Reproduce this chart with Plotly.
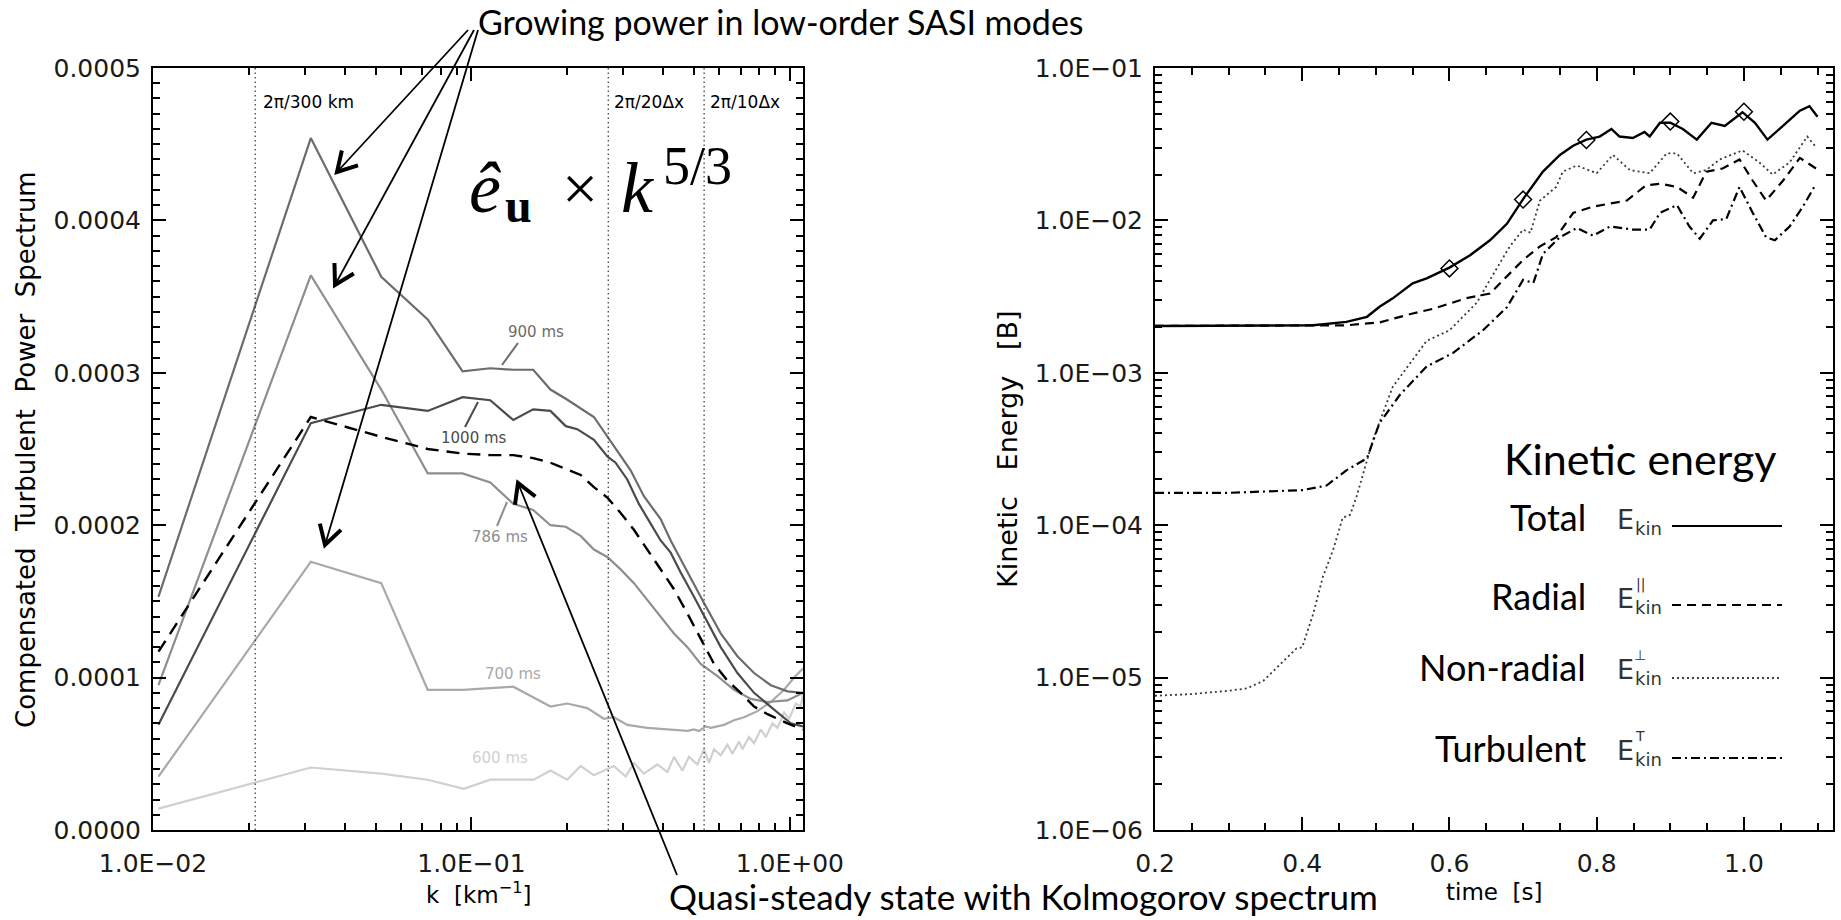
import math
import plotly.graph_objects as go

W, H = 1841, 920

# ---------------- Left panel: compensated turbulent power spectrum ----------------
# k in km^-1, spectrum values in units of 1e-4
K600 = [0.0104, 0.0313, 0.0521, 0.0729, 0.0946, 0.1147, 0.1358, 0.157, 0.1772, 0.1999, 0.2203,
        0.2425, 0.2802, 0.305, 0.3239, 0.3481, 0.3837, 0.4125, 0.4327, 0.4598, 0.4823, 0.5125,
        0.5376, 0.5573, 0.5779, 0.6067, 0.6369, 0.6603, 0.6927, 0.71, 0.7447, 0.7721, 0.8106,
        0.8404, 0.8823, 0.9147, 0.9596, 0.9949, 1.0445, 1.0829, 1.1]
P600 = [0.14, 0.41, 0.37, 0.33, 0.27, 0.33, 0.33, 0.33, 0.39, 0.33, 0.42,
        0.36, 0.42, 0.35, 0.44, 0.37, 0.43, 0.38, 0.48, 0.39, 0.48, 0.43,
        0.53, 0.44, 0.53, 0.49, 0.56, 0.50, 0.58, 0.53, 0.61, 0.57, 0.66,
        0.61, 0.70, 0.67, 0.77, 0.73, 0.83, 0.81, 0.89]

K700 = [0.0104, 0.0313, 0.0521, 0.0729, 0.0938, 0.1354, 0.1772, 0.1999, 0.2311, 0.2606, 0.2802,
        0.3087, 0.3568, 0.4225, 0.4769, 0.5001, 0.5186, 0.5442, 0.5645, 0.6215, 0.668, 0.7182,
        0.7914, 0.8716, 0.9596, 1.0316, 1.1]
P700 = [0.35, 1.76, 1.62, 0.92, 0.92, 0.94, 0.81, 0.83, 0.80, 0.73, 0.74,
        0.69, 0.67, 0.66, 0.65, 0.66, 0.65, 0.68, 0.67, 0.69, 0.72, 0.74,
        0.78, 0.84, 0.92, 1.00, 1.06]

K786 = [0.0104, 0.0313, 0.0521, 0.0729, 0.0938, 0.1146, 0.1354, 0.1563, 0.1771, 0.1979, 0.2203,
        0.2425, 0.2677, 0.2942, 0.3239, 0.3568, 0.3929, 0.4327, 0.4769, 0.525, 0.5925, 0.668,
        0.7542, 0.8509, 0.9835, 1.1]
P786 = [0.95, 3.64, 2.89, 2.34, 2.34, 2.28, 2.14, 2.10, 2.00, 1.99, 1.93,
        1.84, 1.79, 1.71, 1.62, 1.51, 1.40, 1.29, 1.20, 1.09, 1.01, 0.92,
        0.86, 0.84, 0.85, 0.90]

K900 = [0.0104, 0.0313, 0.0521, 0.0729, 0.0938, 0.1146, 0.1354, 0.1563, 0.1771, 0.1979, 0.2425,
        0.2677, 0.3162, 0.3481, 0.3929, 0.4225, 0.4769, 0.5376, 0.6067, 0.6846, 0.7721, 0.8716,
        0.9835, 1.1]
P900 = [1.53, 4.54, 3.63, 3.35, 3.01, 3.03, 3.02, 3.02, 2.89, 2.83, 2.71,
        2.58, 2.36, 2.19, 2.04, 1.90, 1.69, 1.49, 1.29, 1.14, 1.03, 0.95,
        0.91, 0.90]

K1000 = [0.0104, 0.0313, 0.0521, 0.0729, 0.0938, 0.1146, 0.1354, 0.1563, 0.1771, 0.1979, 0.215,
         0.2425, 0.2677, 0.2836, 0.3087, 0.3357, 0.3655, 0.3929, 0.4225, 0.4542, 0.5001, 0.551,
         0.6067, 0.6846, 0.7721, 0.8925, 1.007, 1.1]
P1000 = [0.69, 2.67, 2.79, 2.75, 2.84, 2.82, 2.69, 2.76, 2.75, 2.65, 2.63,
         2.56, 2.45, 2.41, 2.30, 2.14, 2.01, 1.90, 1.82, 1.69, 1.53, 1.36,
         1.20, 1.03, 0.90, 0.79, 0.70, 0.68]

KQS = [0.0104, 0.0313, 0.0521, 0.0729, 0.0938, 0.1146, 0.1354, 0.1563, 0.1771, 0.1979, 0.2203,
       0.2425, 0.2677, 0.2942, 0.3239, 0.3568, 0.3929, 0.4327, 0.4769, 0.525, 0.578, 0.637,
       0.701, 0.772, 0.851, 0.9835, 1.1]
PQS = [1.17, 2.71, 2.58, 2.50, 2.47, 2.46, 2.46, 2.44, 2.41, 2.37, 2.33,
       2.25, 2.18, 2.08, 1.97, 1.84, 1.71, 1.58, 1.42, 1.25, 1.09, 0.98,
       0.90, 0.81, 0.76, 0.70, 0.66]

K_MARKS = [0.02094, 0.269, 0.538]
K_MARK_LABELS = ["2π/300 km", "2π/20Δx", "2π/10Δx"]

LEFT_YTICKS = [0.0, 1e-4, 2e-4, 3e-4, 4e-4, 5e-4]
LEFT_YTEXT = ["0.0000", "0.0001", "0.0002", "0.0003", "0.0004", "0.0005"]
LEFT_XTICKS = [0.01, 0.1, 1.0]
LEFT_XTEXT = ["1.0E−02", "1.0E−01", "1.0E+00"]

# ---------------- Right panel: kinetic energy vs time ----------------
T_TOT = [0.2, 0.3, 0.415, 0.46, 0.488, 0.505, 0.523, 0.55, 0.569, 0.6, 0.628, 0.655, 0.678, 0.7,
         0.727, 0.75, 0.768, 0.786, 0.804, 0.82, 0.831, 0.849, 0.865, 0.872, 0.886, 0.9, 0.917,
         0.936, 0.956, 0.974, 0.998, 1.015, 1.032, 1.053, 1.076, 1.089, 1.1]
E_TOT = [2.03e-3, 2.03e-3, 2.05e-3, 2.16e-3, 2.33e-3, 2.71e-3, 3.08e-3, 3.86e-3, 4.16e-3, 4.9e-3,
         5.9e-3, 7.4e-3, 9.5e-3, 1.38e-2, 2.09e-2, 2.69e-2, 3.09e-2, 3.39e-2, 3.55e-2, 3.98e-2,
         3.55e-2, 3.47e-2, 3.8e-2, 3.55e-2, 4.37e-2, 4.37e-2, 3.98e-2, 3.39e-2, 4.37e-2, 4.17e-2,
         5.13e-2, 4.37e-2, 3.39e-2, 4.17e-2, 5.25e-2, 5.62e-2, 4.79e-2]
T_MARK = [0.6, 0.7, 0.786, 0.9, 1.0]
E_MARK = [4.84e-3, 1.37e-2, 3.37e-2, 4.45e-2, 5.16e-2]

T_RAD = [0.2, 0.3, 0.4, 0.46, 0.505, 0.533, 0.55, 0.578, 0.623, 0.655, 0.678, 0.7, 0.723, 0.745,
         0.768, 0.795, 0.818, 0.841, 0.867, 0.886, 0.909, 0.931, 0.949, 0.971, 0.994, 1.012,
         1.03, 1.053, 1.076, 1.098]
E_RAD = [2.03e-3, 2.03e-3, 2.03e-3, 2.05e-3, 2.14e-3, 2.34e-3, 2.45e-3, 2.63e-3, 3.09e-3, 3.31e-3,
         4.27e-3, 5.5e-3, 6.76e-3, 7.76e-3, 1.12e-2, 1.23e-2, 1.29e-2, 1.35e-2, 1.70e-2, 1.74e-2,
         1.66e-2, 1.41e-2, 2.09e-2, 2.19e-2, 2.51e-2, 1.82e-2, 1.35e-2, 1.82e-2, 2.57e-2, 2.19e-2]

T_NR = [0.2, 0.25, 0.3, 0.325, 0.347, 0.37, 0.392, 0.4, 0.415, 0.428, 0.442, 0.455, 0.465, 0.474,
        0.488, 0.496, 0.523, 0.569, 0.6, 0.637, 0.655, 0.682, 0.7, 0.71, 0.723, 0.745, 0.754,
        0.773, 0.8, 0.822, 0.845, 0.872, 0.895, 0.909, 0.931, 0.949, 0.967, 0.998, 1.021, 1.039,
        1.062, 1.086, 1.098]
E_NR = [7.6e-6, 7.8e-6, 8.2e-6, 8.5e-6, 9.5e-6, 1.23e-5, 1.55e-5, 1.58e-5, 2.63e-5, 4.57e-5,
        6.9e-5, 1.12e-4, 1.17e-4, 1.55e-4, 2.69e-4, 3.63e-4, 8.1e-4, 1.62e-3, 1.9e-3, 2.88e-3,
        4.07e-3, 6.76e-3, 8.7e-3, 8.3e-3, 1.35e-2, 1.66e-2, 2.09e-2, 2.29e-2, 2.04e-2, 2.69e-2,
        2.14e-2, 2.04e-2, 2.75e-2, 2.75e-2, 2.04e-2, 2.14e-2, 2.51e-2, 2.88e-2, 2.4e-2, 2.0e-2,
        2.4e-2, 3.55e-2, 3.02e-2]

T_TU = [0.2, 0.3, 0.4, 0.433, 0.46, 0.478, 0.488, 0.505, 0.533, 0.569, 0.605, 0.646, 0.678, 0.7,
        0.714, 0.727, 0.75, 0.773, 0.795, 0.818, 0.849, 0.872, 0.886, 0.909, 0.926, 0.94, 0.958,
        0.976, 0.994, 1.012, 1.03, 1.042, 1.062, 1.08, 1.098]
E_TU = [1.63e-4, 1.63e-4, 1.7e-4, 1.82e-4, 2.29e-4, 2.57e-4, 2.75e-4, 4.68e-4, 7.2e-4, 1.1e-3,
        1.35e-3, 1.91e-3, 2.69e-3, 4.07e-3, 3.89e-3, 6.03e-3, 7.76e-3, 8.91e-3, 7.94e-3, 9.12e-3,
        8.71e-3, 8.71e-3, 1.12e-2, 1.26e-2, 9.12e-3, 7.59e-3, 1.0e-2, 1.02e-2, 1.66e-2, 1.12e-2,
        7.76e-3, 7.41e-3, 9.12e-3, 1.23e-2, 1.74e-2]

RIGHT_YTICKS = [1e-6, 1e-5, 1e-4, 1e-3, 1e-2, 1e-1]
RIGHT_YTEXT = ["1.0E−06", "1.0E−05", "1.0E−04", "1.0E−03", "1.0E−02", "1.0E−01"]
RIGHT_XTICKS = [0.2, 0.4, 0.6, 0.8, 1.0]
RIGHT_XTEXT = ["0.2", "0.4", "0.6", "0.8", "1.0"]

LEGEND_NAMES = ["Total", "Radial", "Non-radial", "Turbulent"]
LEGEND_SUPS = ["", "||", "⊥", "T"]

# ---------------- helpers ----------------
def px(x):
    return x / W

def py(y):
    return 1 - y / H

SCALE = 1e-4
TICKFONT = dict(family="DejaVu Sans", size=25, color="#1a1a1a")

fig = go.Figure()

# left panel curves
curves = [
    (K600, P600, "#d0d0d0"),
    (K700, P700, "#a9a9a9"),
    (K786, P786, "#8e8e8e"),
    (K900, P900, "#6c6c6c"),
    (K1000, P1000, "#4b4b4b"),
]
for kk, pp, col in curves:
    fig.add_trace(go.Scatter(x=kk, y=[v * SCALE for v in pp], mode="lines",
                             line=dict(color=col, width=2.2), xaxis="x", yaxis="y",
                             hoverinfo="skip"))
fig.add_trace(go.Scatter(x=KQS, y=[v * SCALE for v in PQS], mode="lines",
                         line=dict(color="black", width=2.4, dash="13px,8px"),
                         xaxis="x", yaxis="y", hoverinfo="skip"))
for km in K_MARKS:
    fig.add_trace(go.Scatter(x=[km, km], y=[LEFT_YTICKS[0], LEFT_YTICKS[-1]], mode="lines",
                             line=dict(color="#333", width=1.2, dash="1.5px,3px"),
                             xaxis="x", yaxis="y", hoverinfo="skip"))

# right panel curves
fig.add_trace(go.Scatter(x=T_NR, y=E_NR, mode="lines",
                         line=dict(color="#3a3a3a", width=1.8, dash="2px,3px"),
                         xaxis="x2", yaxis="y2", hoverinfo="skip"))
fig.add_trace(go.Scatter(x=T_TU, y=E_TU, mode="lines",
                         line=dict(color="black", width=2.2, dash="9px,4px,2px,4px"),
                         xaxis="x2", yaxis="y2", hoverinfo="skip"))
fig.add_trace(go.Scatter(x=T_RAD, y=E_RAD, mode="lines",
                         line=dict(color="black", width=2.2, dash="9px,6px"),
                         xaxis="x2", yaxis="y2", hoverinfo="skip"))
fig.add_trace(go.Scatter(x=T_TOT, y=E_TOT, mode="lines",
                         line=dict(color="black", width=2.4),
                         xaxis="x2", yaxis="y2", hoverinfo="skip"))
fig.add_trace(go.Scatter(x=T_MARK, y=E_MARK, mode="markers",
                         marker=dict(symbol="diamond-open", size=13, color="black",
                                     line=dict(width=1.5, color="black")),
                         xaxis="x2", yaxis="y2", hoverinfo="skip"))

axis_common = dict(showline=True, linecolor="black", linewidth=2, mirror="allticks",
                   ticks="inside", tickwidth=2, tickcolor="black", showgrid=False,
                   zeroline=False, tickfont=TICKFONT, automargin=False)

fig.update_layout(
    width=W, height=H,
    margin=dict(l=0, r=0, t=0, b=0, autoexpand=False),
    paper_bgcolor="white", plot_bgcolor="white",
    showlegend=False,
    xaxis=dict(type="log", range=[-2, math.log10(1.1)], domain=[px(153), px(803)],
               anchor="y", tickmode="array", tickvals=LEFT_XTICKS, ticktext=LEFT_XTEXT,
               ticklen=13, ticklabelstandoff=10,
               minor=dict(ticks="inside", ticklen=7, tickwidth=1.5, tickcolor="black",
                          dtick="D1", showgrid=False),
               **axis_common),
    yaxis=dict(range=[0, 5e-4], domain=[py(830), py(68)], anchor="x",
               tickmode="array", tickvals=LEFT_YTICKS, ticktext=LEFT_YTEXT,
               ticklen=13, ticklabelstandoff=5,
               minor=dict(ticks="inside", ticklen=7, tickwidth=1.5, tickcolor="black",
                          dtick=1e-5, showgrid=False),
               **axis_common),
    xaxis2=dict(range=[0.2, 1.121], domain=[px(1155), px(1833)], anchor="y2",
                tickmode="array", tickvals=RIGHT_XTICKS, ticktext=RIGHT_XTEXT,
                ticklen=13, ticklabelstandoff=10,
                minor=dict(ticks="inside", ticklen=7, tickwidth=1.5, tickcolor="black",
                           dtick=0.05, tick0=0.2, showgrid=False),
                **axis_common),
    yaxis2=dict(type="log", range=[-6, -1], domain=[py(830), py(68)], anchor="x2",
                tickmode="array", tickvals=RIGHT_YTICKS, ticktext=RIGHT_YTEXT,
                ticklen=13, ticklabelstandoff=5,
                minor=dict(ticks="inside", ticklen=7, tickwidth=1.5, tickcolor="black",
                           dtick="D1", showgrid=False),
                **axis_common),
)

ann = []
shapes = []

def text(x, y, s, size, family="DejaVu Sans", color="black", xanchor="center",
         yanchor="middle", angle=0):
    ann.append(dict(x=px(x), y=py(y), xref="paper", yref="paper", text=s, showarrow=False,
                    xanchor=xanchor, yanchor=yanchor, textangle=angle,
                    font=dict(family=family, size=size, color=color)))

def seg(x0, y0, x1, y1, color="black", width=1.5, dash="solid"):
    shapes.append(dict(type="line", xref="paper", yref="paper", x0=px(x0), y0=py(y0),
                       x1=px(x1), y1=py(y1), line=dict(color=color, width=width, dash=dash)))

def arrow(x0, y0, x1, y1, head=22, ang=30, lw=1.8, hw=4):
    seg(x0, y0, x1, y1, width=lw)
    dx, dy = x1 - x0, y1 - y0
    L = math.hypot(dx, dy)
    ux, uy = -dx / L, -dy / L
    pts = []
    for s in (1, -1):
        a = math.radians(ang) * s
        bx = ux * math.cos(a) - uy * math.sin(a)
        by = ux * math.sin(a) + uy * math.cos(a)
        pts.append((x1 + head * bx, y1 + head * by))
    path = "M {:.5f},{:.5f} L {:.5f},{:.5f} L {:.5f},{:.5f}".format(
        px(pts[0][0]), py(pts[0][1]), px(x1), py(y1), px(pts[1][0]), py(pts[1][1]))
    shapes.append(dict(type="path", xref="paper", yref="paper", path=path,
                       line=dict(color="black", width=hw)))

# axis titles
text(26, 450, "Compensated&nbsp; Turbulent&nbsp; Power&nbsp; Spectrum", 26, angle=-90)
text(478, 893, "k&nbsp; [km<sup>−1</sup>]", 23)
text(1008, 450, "Kinetic&nbsp;&nbsp; Energy&nbsp;&nbsp; [B]", 27, angle=-90)
text(1494, 892, "time&nbsp; [s]", 23)

# k markers labels
for km, lab, sh in zip(K_MARKS, K_MARK_LABELS, [6, 4, 4]):
    ann.append(dict(x=math.log10(km), y=4.78e-4, xref="x", yref="y", text=lab,
                    showarrow=False, xanchor="left", xshift=sh, yanchor="middle",
                    font=dict(family="DejaVu Sans", size=17, color="black")))

# formula  ê_u × k^{5/3}  (pieces placed individually)
SERIF = "Liberation Serif"
text(467, 188, "<i>ê</i>", 72, family=SERIF, xanchor="left")
text(503, 205, "<b>u</b>", 48, family=SERIF, xanchor="left")
text(580, 189, "×", 64, family=SERIF)
text(619, 188, "<i>k</i>", 72, family=SERIF, xanchor="left")
text(661, 166, "5/3", 54, family=SERIF, xanchor="left")

# curve labels
text(536, 332, "900 ms", 15, color="#6c6c6c")
seg(518, 343, 502, 365, color="#6c6c6c", width=2)
text(474, 438, "1000 ms", 15, color="#4b4b4b")
seg(465, 427, 478, 402, color="#4b4b4b", width=2)
text(500, 537, "786 ms", 15, color="#8e8e8e")
seg(497, 526, 507, 502, color="#8e8e8e", width=2)
text(513, 674, "700 ms", 15, color="#a9a9a9")
text(500, 758, "600 ms", 15, color="#d0d0d0")

# annotation arrows and texts
text(476, 21, "Growing power in low-order SASI modes", 34, family="Lato", xanchor="left")
arrow(468, 30, 337, 172)
arrow(474, 30, 335, 285)
arrow(478, 30, 325, 545)
text(667, 896, "Quasi-steady state with Kolmogorov spectrum", 35, family="Lato", xanchor="left")
arrow(677, 875, 518, 483)

# right panel legend
text(1640, 458, "Kinetic energy", 43, family="Lato")
rows_y = [517, 596, 667, 748]
line_y = [526, 605, 678, 758]
dashes = ["solid", "9px,6px", "2px,3px", "9px,4px,2px,4px"]
for name, sup, yy, ly, ds in zip(LEGEND_NAMES, LEGEND_SUPS, rows_y, line_y, dashes):
    text(1588, yy, name, 36, family="Lato", xanchor="right")
    text(1615, yy + 2, "E", 27, color="#333", xanchor="left")
    text(1633, yy + 11, "kin", 18, color="#333", xanchor="left")
    if sup:
        text(1640, yy - 12, sup, 14, color="#333")
    seg(1672, ly, 1782, ly, color="black", width=2 if ds != "2px,3px" else 1.6, dash=ds)

fig.update_layout(annotations=ann, shapes=shapes)
fig.write_html("out.html")
